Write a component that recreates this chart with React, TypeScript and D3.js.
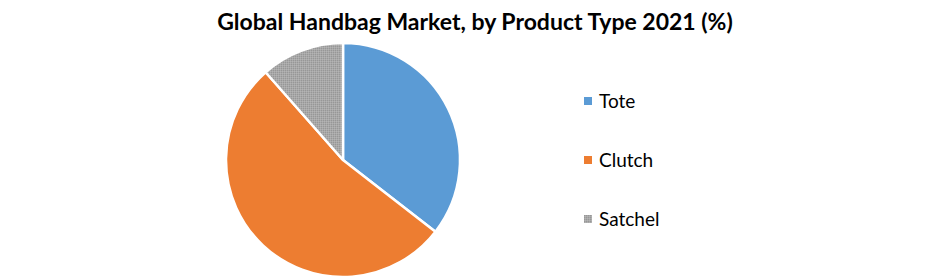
import React from "react";
import * as d3 from "d3";

const categories = ["Tote", "Clutch", "Satchel"];
const values = [35.5, 53.0, 11.5];
const colors = ["#5b9bd5", "#ed7d31", "#a5a5a5"];
const title = "Global Handbag Market, by Product Type 2021 (%)";

export default function App() {
  const W = 941, H = 280;
  const cx = 343, cy = 160, r = 117;
  const pie = d3.pie<number>().sort(null).value((d) => d)(values);
  const arc = d3.arc<d3.PieArcDatum<number>>().innerRadius(0).outerRadius(r);
  const legendY = d3.scalePoint<string>().domain(categories).range([101, 219]);
  const fills = categories.map((c, i) => (i === 2 ? "url(#satchelPat)" : colors[i]));
  return (
    <svg width={W} height={H} style={{ position: "absolute", left: 0, top: 0 }}>
      <defs>
        <pattern id="satchelPat" width="2" height="2" patternUnits="userSpaceOnUse">
          <rect width="2" height="2" fill="#a8a8a8" />
          <rect x="0" y="0" width="1" height="1" fill="#979797" />
          <rect x="1" y="1" width="1" height="1" fill="#b4b4b4" />
        </pattern>
      </defs>
      <rect width={W} height={H} fill="#fff" />
      <text x={475} y={30} textAnchor="middle" fontFamily="Lato, 'Open Sans', sans-serif" fontWeight="bold" fontSize={23} fill="#000">
        {title}
      </text>
      <g transform={`translate(${cx},${cy})`}>
        {pie.map((p, i) => (
          <path key={i} d={arc(p) || ""} fill={fills[i]} stroke="#fff" strokeWidth={2.5} strokeLinejoin="round" />
        ))}
      </g>
      {categories.map((c, i) => (
        <g key={c} transform={`translate(584,${legendY(c)})`}>
          <rect x={0} y={-4} width={8} height={8} fill={fills[i]} />
          <text x={15} y={0} dy="0.35em" fontFamily="Lato, 'Open Sans', sans-serif" fontSize={19} fill="#000">
            {c}
          </text>
        </g>
      ))}
    </svg>
  );
}
